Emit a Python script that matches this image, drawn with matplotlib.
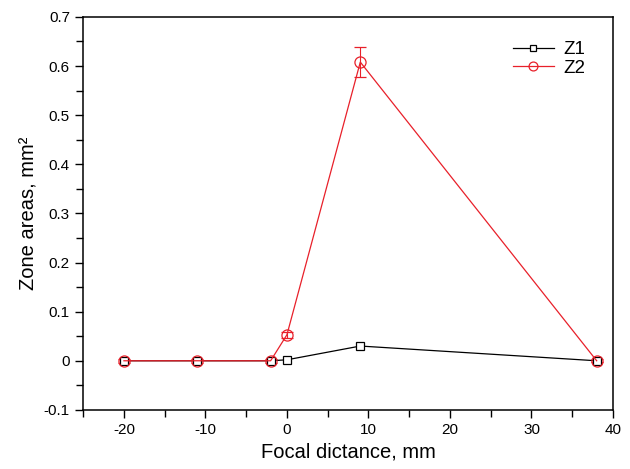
import matplotlib
matplotlib.use("Agg")
import matplotlib.pyplot as plt
from matplotlib.ticker import MultipleLocator

plt.rcParams['font.family'] = ['Liberation Sans', 'DejaVu Sans']
plt.rcParams['axes.unicode_minus'] = False

# Datos
x = [-20, -11, -2, 0, 9, 38]
z1 = [0, 0, 0, 0.002, 0.030, 0]
z1_err = [0.004, 0.004, 0.004, 0.003, 0.004, 0.003]
z2 = [0, 0, 0, 0.053, 0.608, 0]
z2_err = [0.004, 0.004, 0.004, 0.006, 0.030, 0.003]

fig = plt.figure(figsize=(6.3, 4.69), dpi=100)
ax = fig.add_axes([0.132, 0.126, 0.841, 0.838])

ax.errorbar(x, z1, yerr=z1_err, color="black", lw=0.9, marker="s", ms=6,
            mfc="white", mec="black", mew=0.9, capsize=3, elinewidth=0.8, label="Z1")
ax.errorbar(x, z2, yerr=z2_err, color="#e8202a", lw=0.9, marker="o", ms=8,
            mfc="none", mec="#e8202a", mew=0.9, capsize=4, elinewidth=0.8, label="Z2")

ax.set_xlim(-25, 40)
ax.set_ylim(-0.1, 0.7)
ax.xaxis.set_major_locator(MultipleLocator(10))
ax.xaxis.set_minor_locator(MultipleLocator(5))
ax.yaxis.set_major_locator(MultipleLocator(0.1))
ax.yaxis.set_minor_locator(MultipleLocator(0.05))
ax.yaxis.set_major_formatter(plt.FuncFormatter(lambda v, p: "0" if abs(v) < 1e-9 else f"{v:.1f}"))

ax.tick_params(which="both", direction="out", top=False, right=False, labelsize=11, width=1)
ax.tick_params(which="major", length=6)
ax.tick_params(which="minor", length=5)
for s in ax.spines.values():
    s.set_linewidth(1.1)

ax.set_xlabel("Focal dictance, mm", fontsize=14.5)
ax.set_ylabel("Zone areas, mm²", fontsize=14.5)

h, l = ax.get_legend_handles_labels()
h = [hh[0] for hh in h]
ax.legend(h, l, loc="upper right", frameon=False, fontsize=13.5, handlelength=2.2,
          borderaxespad=0.8, labelspacing=0.05, handletextpad=0.5, markerscale=0.8,
          bbox_to_anchor=(0.99, 0.995))

plt.savefig("out.png", dpi=100)
